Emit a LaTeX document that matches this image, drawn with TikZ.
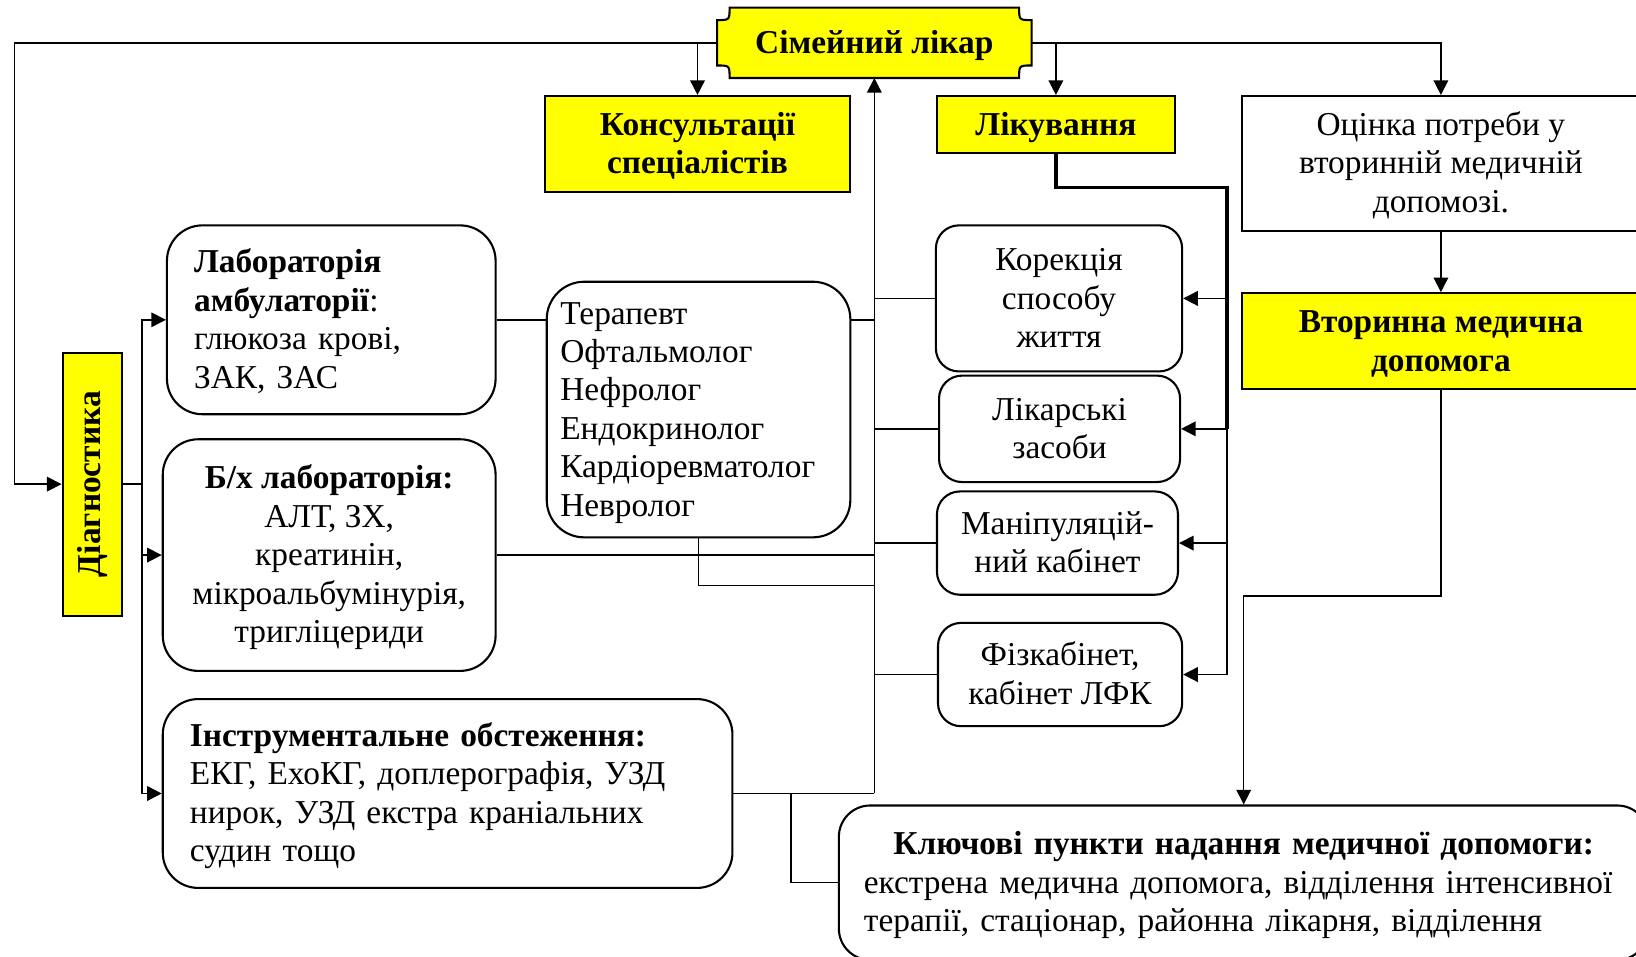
\documentclass[tikz,border=0pt]{standalone}
\usepackage{fontspec}
\usepackage{graphicx}
\setmainfont{Liberation Serif}
\usetikzlibrary{arrows.meta,calc,backgrounds}
\definecolor{yel}{HTML}{FFFF00}
\newcommand\mybasefont{\fontsize{16}{18.4}\selectfont}
\newcommand\ws{\rule[-4.1pt]{0pt}{18.4pt}}
\begin{document}
\begin{tikzpicture}[x=0.5pt,y=-0.5pt,
  every node/.style={font=\mybasefont, inner sep=0pt},
  line width=0.75pt,
  arr/.style={-{Triangle[length=7pt,width=7pt]}},
  ybox/.style={draw, fill=yel, line width=1pt, font=\mybasefont\bfseries, align=center},
  rbox/.style={draw, line width=1pt, align=center},
  thickbus/.style={line width=1.6pt},
]
\useasboundingbox (0,0) rectangle (1568,917);

% nodes
\node[minimum width=150pt, minimum height=33pt, font=\mybasefont\bfseries] (fam) at (838,41) {\ws Сімейний лікар};
\begin{scope}[on background layer]
\filldraw[fill=yel, line width=1pt]
  ($(fam.north west)+(12,0)$) -- ($(fam.north east)+(-12,0)$)
  .. controls ($(fam.north east)+(-12,12)$) .. ($(fam.north east)+(0,12)$)
  -- ($(fam.south east)+(0,-12)$)
  .. controls ($(fam.south east)+(-12,-12)$) .. ($(fam.south east)+(-12,0)$)
  -- ($(fam.south west)+(12,0)$)
  .. controls ($(fam.south west)+(12,-12)$) .. ($(fam.south west)+(0,-12)$)
  -- ($(fam.north west)+(0,12)$)
  .. controls ($(fam.north west)+(12,12)$) .. cycle;
\end{scope}

\node[ybox, minimum width=146.5pt, minimum height=46pt] (kons) at (668.5,138) {\ws Консультації\\спеціалістів\ws};
\node[ybox, minimum width=114pt, minimum height=27.5pt] (lik) at (1012,119.5) {\ws Лікування};
\node[rbox, minimum width=191pt, minimum height=64.5pt] (oc) at (1381,156.5) {\ws Оцінка потреби у\\вторинній медичній\\допомозі.\ws};
\node[ybox, minimum width=191pt, minimum height=46pt] (vt) at (1381,327) {\ws Вторинна медична\\допомога\ws};
\node[rbox, rounded corners=15pt, minimum width=388pt, minimum height=74pt, text width=364pt, align=left] (kl) at (1192,846)
  {\makebox[364pt][c]{\ws\bfseries Ключові пункти надання медичної допомоги:}\\екстрена медична допомога, відділення інтенсивної\\терапії, стаціонар, районна лікарня, відділення\ws};

\node[draw, fill=yel, line width=1pt, minimum width=28.5pt, minimum height=126pt] (diag) at (88.5,464) {\rotatebox{90}{\bfseries Діагностика}};

\node[rbox, rounded corners=17pt, minimum width=157.5pt, minimum height=90.5pt, text width=131.5pt, align=left] (lab) at (317.5,306.5)
  {\ws\textbf{Лабораторія}\\\textbf{амбулаторії}:\\глюкоза крові,\\ЗАК, ЗАС\ws};
\node[rbox, rounded corners=17pt, minimum width=159.5pt, minimum height=111pt] (bx) at (315.5,532)
  {\ws\textbf{Б/х лабораторія:}\\АЛТ, ЗХ,\\креатинін,\\мікроальбумінурія,\\тригліцериди\ws};
\node[rbox, rounded corners=17pt, minimum width=273pt, minimum height=90.5pt, text width=247pt, align=left] (instr) at (429,760.5)
  {\ws\textbf{Інструментальне обстеження:}\\ЕКГ, ЕхоКГ, доплерографія, УЗД\\нирок, УЗД екстра краніальних\\судин тощо\ws};
\node[rbox, rounded corners=18pt, minimum width=145.5pt, minimum height=122.5pt, text width=132.5pt, align=left] (spec) at (669.5,392.5)
  {\ws Терапевт\\Офтальмолог\\Нефролог\\Ендокринолог\\Кардіоревматолог\\Невролог\ws};

\node[rbox, rounded corners=11pt, minimum width=118pt, minimum height=70pt] (kor) at (1015,286) {\ws Корекція\\способу\\життя\ws};
\node[rbox, rounded corners=11pt, minimum width=115.5pt, minimum height=51pt] (liks) at (1015.5,411) {\ws Лікарські\\засоби\ws};
\node[rbox, rounded corners=11pt, minimum width=115.5pt, minimum height=49.5pt] (man) at (1013.5,520.5) {\ws Маніпуляцій-\\ний кабінет\ws};
\node[rbox, rounded corners=11pt, minimum width=117pt, minimum height=49.5pt] (fiz) at (1016,646.5) {\ws Фізкабінет,\\кабінет ЛФК\ws};

% connectors from family doctor
\coordinate (tl) at (14,41);
\draw[arr] (fam.west) -- (tl) |- (diag.west);
\draw[arr] (kons.north |- fam.west) -- (kons.north);
\draw[arr] (lik.north |- fam.east) -- (lik.north);
\draw[arr] (fam.east) -| (oc.north);
\draw[arr] (oc.south) -- (vt.north);
\coordinate (vk) at ($(kl.north)+(0,-200)$);
\draw[arr] (vt.south) |- (vk) -- (kl.north);

% diagnostics tree
\coordinate (dj) at (136,464);
\draw (diag.east) -- (dj);
\draw[arr] (dj) |- (lab.west);
\draw[arr] (dj) |- (bx.west);
\draw[arr] (dj) |- (instr.west);

% bus back to family doctor
\coordinate (busB) at (838,760.5);
\coordinate (sj) at (838,561);
\coordinate (ij) at (758,760.5);
\draw[arr] (busB) -- (fam.south);
\draw (lab.east) -- (lab.east -| spec.west);
\draw (spec.east |- lab.east) -- (lab.east -| busB);
\draw (bx.east) -- (bx.east -| busB);
\draw (spec.south) |- (sj);
\draw (instr.east) -- (busB);
\draw (ij) |- (kl.west);
\draw (kor.west) -- (kor.west -| busB);
\draw (liks.west) -- (liks.west -| busB);
\draw (man.west) -- (man.west -| busB);
\draw (fiz.west) -- (fiz.west -| busB);

% treatment distribution
\coordinate (lr) at (1176,180);
\draw[thickbus] (lik.south) |- (lr) -- (lr |- liks.east);
\draw (lr |- liks.east) -- (lr |- fiz.east);
\draw[arr] (lr |- kor.east) -- (kor.east);
\draw[arr] (lr |- liks.east) -- (liks.east);
\draw[arr] (lr |- man.east) -- (man.east);
\draw[arr] (lr |- fiz.east) -- (fiz.east);
\end{tikzpicture}
\end{document}
